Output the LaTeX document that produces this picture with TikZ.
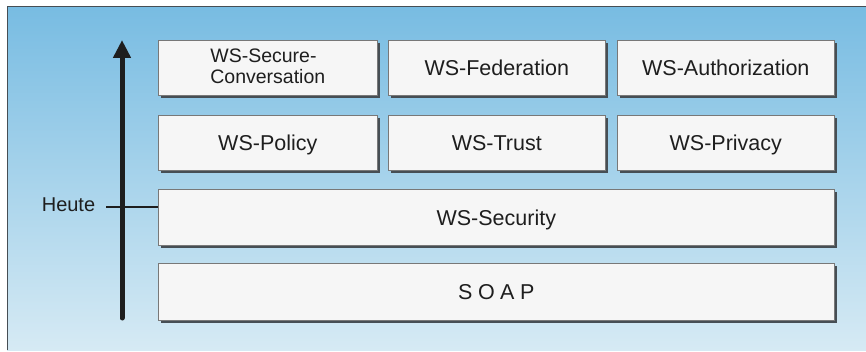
\documentclass[tikz,border=0pt]{standalone}
\usepackage{fontspec}
\setmainfont{Liberation Sans}
\usetikzlibrary{arrows.meta}
\definecolor{bgtop}{RGB}{120,188,226}
\definecolor{bgbot}{RGB}{214,234,244}
\definecolor{boxfill}{RGB}{246,246,246}
\definecolor{boxedge}{RGB}{120,120,120}
\definecolor{shadowc}{RGB}{70,78,84}
\definecolor{txt}{RGB}{30,30,30}
\tikzset{
  layer/.style={draw=boxedge, line width=0.6pt, fill=boxfill, text=txt,
    font=\fontsize{21.5}{24}\selectfont, inner sep=0pt, anchor=north west},
  oneline/.style={text height=18pt, text depth=2pt},
}
\newcommand{\mybox}[7]{% name, style, x1, y1, x2, y2, text
  \fill[shadowc] (#3+3,#4+3) rectangle (#5+3,#6+3);
  \node[layer, #2, minimum width=#5-#3, minimum height=#6-#4] (#1) at (#3,#4) {#7};
}
\begin{document}
\begin{tikzpicture}[x=1pt,y=-1pt]
\useasboundingbox (0,0) rectangle (866,352);
\fill[white] (0,0) rectangle (866,352);
\shade[top color=bgtop, bottom color=bgbot] (7,7) rectangle (866,350);
\draw[line width=1pt, color=shadowc] (7,350) -- (7,7) -- (866,7);
% boxes
\mybox{sc}{}{158}{40}{377}{95}{\fontsize{19.5}{21}\selectfont\raisebox{-6pt}[0pt][0pt]{\begin{tabular}{@{}l@{}}WS-Secure-\\Conversation\end{tabular}}}
\mybox{fed}{oneline}{388}{40}{605}{95}{WS-Federation}
\mybox{auth}{oneline}{617}{40}{834}{95}{WS-Authorization}
\mybox{pol}{oneline}{158}{115}{377}{170}{WS-Policy}
\mybox{tru}{oneline}{388}{115}{605}{170}{WS-Trust}
\mybox{pri}{oneline}{617}{115}{834}{170}{WS-Privacy}
\mybox{sec}{oneline}{158}{189}{834}{245}{WS-Security}
\mybox{soap}{oneline}{158}{263}{834}{320}{S\kern5.5pt O\kern5.5pt A\kern5.5pt P}
% arrow
\coordinate (abot) at (122,318);
\coordinate (atop) at (122,40);
\draw[line width=5pt, color=txt, line cap=round, -{Triangle[length=18pt,width=17pt]}] (abot) -- (atop);
% Heute
\node[text=txt, font=\fontsize{20}{24}\selectfont, inner sep=0pt] (heute) at (68.5,205) {Heute};
\coordinate (hl) at (106,207);
\draw[line width=1.3pt, color=txt] (hl) -- (sec.west |- hl);
\end{tikzpicture}
\end{document}
